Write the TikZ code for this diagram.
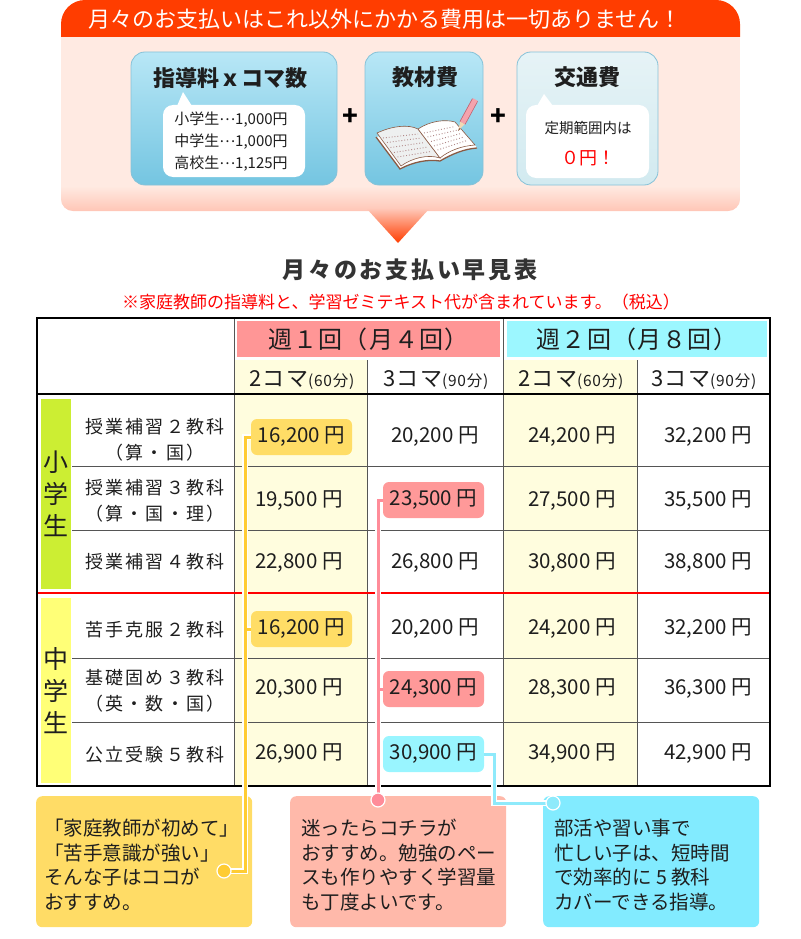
\documentclass[tikz,border=0pt]{standalone}
\usepackage{fontspec}
\setmainfont{Noto Sans CJK JP}
\newfontfamily\jpwide[LetterSpace=12]{Noto Sans CJK JP}
\newfontfamily\jptitle[LetterSpace=12]{Noto Sans CJK JP}
\newfontfamily\jphd[LetterSpace=5]{Noto Sans CJK JP}
\newcommand{\mdots}{\raisebox{4.5pt}{…}}
\definecolor{bannerred}{HTML}{FF3D00}
\definecolor{bodypink}{HTML}{FFEAE2}
\definecolor{bodydeep}{HTML}{FFC6B6}
\definecolor{boxtop}{HTML}{B8E7F6}
\definecolor{boxbot}{HTML}{74C5E1}
\definecolor{boxline}{HTML}{86C2D8}
\definecolor{paletop}{HTML}{E6F3F6}
\definecolor{palebot}{HTML}{D2EAF0}
\definecolor{cream}{HTML}{FFFDDE}
\definecolor{pinkhd}{HTML}{FF9696}
\definecolor{cyanhd}{HTML}{9CF7FF}
\definecolor{grpgreen}{HTML}{CCEE33}
\definecolor{grpyellow}{HTML}{FFFF77}
\definecolor{ylwbadge}{HTML}{FFDD66}
\definecolor{rosebadge}{HTML}{FF9999}
\definecolor{aquabadge}{HTML}{99F5FF}
\definecolor{ylwline}{HTML}{FFCC33}
\definecolor{roseline}{HTML}{FF8C99}
\definecolor{aqualine}{HTML}{8EEAFB}
\definecolor{ylwmemo}{HTML}{FFDC66}
\definecolor{salmonmemo}{HTML}{FFB9AA}
\definecolor{skymemo}{HTML}{82EBFF}
\definecolor{ink}{HTML}{1E1E1E}
\definecolor{titlegray}{HTML}{333333}
\definecolor{cellline}{HTML}{555555}
\definecolor{bookline}{HTML}{8A5A44}
\definecolor{pagegray}{HTML}{EEF0F0}
\definecolor{printdot}{HTML}{B08888}
\definecolor{pencilpink}{HTML}{F4A3AD}
\definecolor{pencilline}{HTML}{C0606E}
\definecolor{wood}{HTML}{F3D9B5}
\begin{document}
\begin{tikzpicture}[x=1pt,y=-1pt,
  costbox/.style={draw=boxline, line width=0.8pt, rounded corners=14pt, top color=boxtop, bottom color=boxbot, minimum height=133pt, inner sep=0pt},
  bubble/.style={fill=white, rounded corners=10pt, inner sep=0pt},
  boxtitle/.style={font=\bfseries\fontsize{22}{24}\selectfont, text=ink},
  smalltxt/.style={font=\fontsize{15}{22}\selectfont, text=ink, align=left},
  price/.style={font=\fontsize{20.5}{22}\selectfont, text=ink, inner sep=0pt},
  badge/.style={price, fill=#1, rounded corners=6pt, minimum width=101pt, minimum height=36pt},
  lbl/.style={font=\jpwide\fontsize{18}{26}\selectfont, text=ink, align=center},
  grpbox/.style={fill=#1, minimum width=30pt, inner sep=0pt, align=center, font=\fontsize{25}{32}\selectfont, text=ink},
  hdr/.style={font=\jphd\fontsize{24}{26}\selectfont, text=ink, inner sep=0pt, minimum height=36pt},
  koma/.style={text=ink, font=\jphd},
  memo/.style={fill=#1, rounded corners=6pt, minimum width=216pt, minimum height=131pt, inner sep=0pt, anchor=north west},
  memotext/.style={font=\fontsize{19.5}{24.5}\selectfont, text=ink, align=left, anchor=west, inner sep=0pt},
  lead/.style={draw=#1, line width=3pt, preaction={draw=white, line width=6pt}},
  leaddot/.style={circle, fill=#1, draw=white, line width=1.2pt, minimum size=14pt, inner sep=0pt},
  rowline/.style={draw=cellline, line width=0.8pt}
]
\useasboundingbox (0,0) rectangle (800,939);

% banner
\begin{scope}
\clip[rounded corners=12pt] (61,20) rectangle (740,211);
\fill[bodypink] (61,20) rectangle (740,211);
\shade[top color=bodypink, bottom color=bodydeep] (61,186) rectangle (740,211);
\end{scope}
\shade[top color=bodydeep, bottom color=bannerred] (367,209) -- (429,209) -- (398,243) -- cycle;
\fill[bannerred] (61,37) -- (61,24) arc[start angle=180, end angle=270, radius=24] -- (716,0) arc[start angle=270, end angle=360, radius=24] -- (740,37) -- cycle;
\node[text=white, font=\fontsize{22}{24}\selectfont] (headline) at (385,19) {月々のお支払いはこれ以外にかかる費用は一切ありません！};

% fee boxes
\node[costbox, minimum width=206pt] (fee) at (234,118.5) {};
\node[boxtitle] (feetitle) at (230,78) {指導料ｘコマ数};
\fill[white] (177,106) -- (183,92) -- (192,106) -- cycle;
\node[bubble, minimum width=142pt, minimum height=72pt] (feebubble) at (234,141) {};
\node[smalltxt] (feetext) at (231,142) {小学生\mdots 1,000円\\中学生\mdots 1,000円\\高校生\mdots 1,125円};
\node[font=\bfseries\fontsize{26}{26}\selectfont] (plus1) at (350,117) {+};

\node[costbox, minimum width=118pt] (book) at (424,118.5) {};
\node[boxtitle] (booktitle) at (425,77) {教材費};
\fill[white] (376,137) -- (400,169) .. controls (413,162) and (428,159) .. (440,161) .. controls (452,154) and (464,149) .. (477,148) -- (475,145) -- (418,129) -- cycle;
\draw[bookline, line width=1.3pt] (376,137) -- (400,169) .. controls (413,162) and (428,159) .. (440,161) .. controls (452,154) and (464,149) .. (477,148);
\filldraw[fill=pagegray, draw=bookline, line width=0.6pt] (377,133) .. controls (392,126) and (408,124) .. (418,129) -- (440,158) .. controls (428,154) and (412,158) .. (401,166) -- cycle;
\filldraw[fill=white, draw=bookline, line width=0.6pt] (418,129) .. controls (430,121) and (445,119) .. (455,122) -- (475,145) .. controls (462,146) and (450,150) .. (440,158) -- cycle;
\draw[printdot, dotted, line width=0.9pt] (383,138) -- (418,134) (387,142.5) -- (421,138) (390.5,147.5) -- (424.5,142.5) (394,152.5) -- (428,147) (397.5,157) -- (431,151.5);
\draw[printdot, dotted, line width=0.9pt] (424,133) -- (455,126.5) (427.5,137) -- (458,130) (431,141.5) -- (461,133.5) (434,146) -- (464,137) (437.5,150) -- (467,140.5);
\draw[pencilline, line width=6.5pt] (475,100) -- (462.5,123);
\draw[pencilpink, line width=5pt] (475.3,99.5) -- (462.5,123);
\fill[wood] (460.3,121.8) -- (464.7,124.2) -- (458,131) -- cycle;
\fill[bookline] (459.2,128.2) -- (460.6,129) -- (458,131) -- cycle;
\node[font=\bfseries\fontsize{26}{26}\selectfont] (plus2) at (498,117) {+};

\node[costbox, minimum width=141pt, top color=paletop, bottom color=palebot] (fare) at (587.5,118.5) {};
\node[boxtitle] (faretitle) at (587,77) {交通費};
\fill[white] (537,106) -- (544,94) -- (553,106) -- cycle;
\node[bubble, minimum width=123pt, minimum height=73pt] (farebubble) at (587.5,141.5) {};
\node[font=\fontsize{14.5}{16}\selectfont, text=ink] (faretext) at (588,128) {定期範囲内は};
\node[font=\fontsize{18}{20}\selectfont, text=red] (farezero) at (588,158) {０円！};

% title
\node[font=\jptitle\bfseries\fontsize{23}{26}\selectfont, text=titlegray] (sheet) at (410,270) {月々のお支払い早見表};
\node[font=\fontsize{17}{20}\selectfont, text=red] (note) at (401,302) {※家庭教師の指導料と、学習ゼミテキスト代が含まれています。（税込）};

% table
\fill[cream] (234,360) rectangle (367,786);
\fill[cream] (503,360) rectangle (637,786);
\node[hdr, fill=pinkhd, minimum width=263pt] (week1) at (368.5,339) {週１回（月４回）};
\node[hdr, fill=cyanhd, minimum width=260pt] (week2) at (637,339) {週２回（月８回）};
\node[koma] (k1) at (302,380) {{\fontsize{22}{24}\selectfont 2コマ}{\fontsize{15.5}{16}\selectfont (60分)}};
\node[koma] (k2) at (436,380) {{\fontsize{22}{24}\selectfont 3コマ}{\fontsize{15.5}{16}\selectfont (90分)}};
\node[koma] (k3) at (571,380) {{\fontsize{22}{24}\selectfont 2コマ}{\fontsize{15.5}{16}\selectfont (60分)}};
\node[koma] (k4) at (704,380) {{\fontsize{22}{24}\selectfont 3コマ}{\fontsize{15.5}{16}\selectfont (90分)}};

\node[grpbox=grpgreen, minimum height=190pt] (elem) at (56,494) {小\\学\\生};
\node[grpbox=grpyellow, minimum height=185pt] (junior) at (56,690.5) {中\\学\\生};

\draw[rowline] (72,466) -- (770,466);
\draw[rowline] (72,530) -- (770,530);
\draw[rowline] (72,658) -- (770,658);
\draw[rowline] (72,722) -- (770,722);
\draw[rowline] (234,318) -- (234,786);
\draw[rowline] (503,318) -- (503,786);
\draw[rowline] (367,360) -- (367,786);
\draw[rowline] (637,360) -- (637,786);
\draw[black, line width=1.2pt] (37,394) -- (770,394);
\draw[red, line width=2pt] (37,593) -- (770,593);
\draw[black, line width=1.4pt] (37,318) rectangle (770,786);

\node[lbl] (row1) at (155,440) {授業補習２教科\\（算・国）};
\node[lbl] (row2) at (155,501) {授業補習３教科\\（算・国・理）};
\node[lbl] (row3) at (155,562) {授業補習４教科};
\node[lbl] (row4) at (155,630) {苦手克服２教科};
\node[lbl] (row5) at (155,691) {基礎固め３教科\\（英・数・国）};
\node[lbl] (row6) at (155,755) {公立受験５教科};

\node[badge=ylwbadge] (b11) at (301.5,437) {16,200 円};
\node[price] (a12) at (435,437) {20,200 円};
\node[price] (a13) at (572,437) {24,200 円};
\node[price] (a14) at (708,437) {32,200 円};
\node[price] (a21) at (299,501) {19,500 円};
\node[badge=rosebadge] (b22) at (433.5,500) {23,500 円};
\node[price] (a23) at (572,501) {27,500 円};
\node[price] (a24) at (708,501) {35,500 円};
\node[price] (a31) at (299,563) {22,800 円};
\node[price] (a32) at (435,563) {26,800 円};
\node[price] (a33) at (572,563) {30,800 円};
\node[price] (a34) at (708,563) {38,800 円};
\node[badge=ylwbadge] (b41) at (301.5,629) {16,200 円};
\node[price] (a42) at (435,629) {20,200 円};
\node[price] (a43) at (572,629) {24,200 円};
\node[price] (a44) at (708,629) {32,200 円};
\node[price] (a51) at (299,689) {20,300 円};
\node[badge=rosebadge] (b52) at (433.5,689) {24,300 円};
\node[price] (a53) at (572,689) {28,300 円};
\node[price] (a54) at (708,689) {36,300 円};
\node[price] (a61) at (299,754) {26,900 円};
\node[badge=aquabadge] (b62) at (433.5,754) {30,900 円};
\node[price] (a63) at (572,754) {34,900 円};
\node[price] (a64) at (708,754) {42,900 円};

% notes
\node[memo=ylwmemo] (memo1) at (36,796) {};
\node[memo=salmonmemo] (memo2) at (290,796) {};
\node[memo=skymemo] (memo3) at (543,796) {};
\node[memotext] (memo1text) at (44,865) {「家庭教師が初めて」\\「苦手意識が強い」\\そんな子はココが\\おすすめ。};
\node[memotext] (memo2text) at (301,865) {迷ったらコチラが\\おすすめ。勉強のペー\\スも作りやすく学習量\\も丁度よいです。};
\node[memotext] (memo3text) at (554,865) {部活や習い事で\\忙しい子は、短時間\\で効率的に 5 教科\\カバーできる指導。};

\coordinate (yjoin) at (245,871);
\coordinate (ytip) at (224,871);
\coordinate (pjoin) at (378,800);
\coordinate (cjoin) at (494,803);
\coordinate (ctip) at (553,803);
\draw[lead=ylwline] (b11.west) -| (yjoin) -- (ytip) (b41.west) -- (b41.west -| yjoin);
\draw[lead=roseline] (b22.west) -| (pjoin) (b52.west) -- (b52.west -| pjoin);
\draw[lead=aqualine] (b62.east) -| (cjoin) -- (ctip);
\node[leaddot=ylwline] (ydot) at (ytip) {};
\node[leaddot=roseline] (pdot) at (pjoin) {};
\node[leaddot=aqualine] (cdot) at (ctip) {};
\end{tikzpicture}
\end{document}
